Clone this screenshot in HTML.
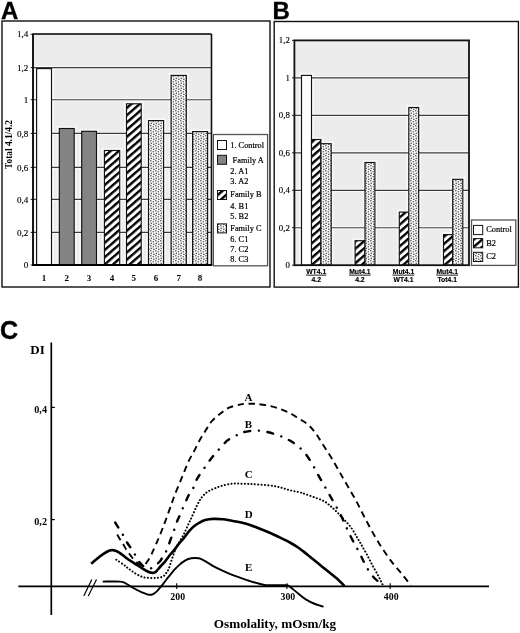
<!DOCTYPE html>
<html><head><meta charset="utf-8"><title>Figure</title>
<style>html,body{margin:0;padding:0;background:#fff;} svg{display:block;}</style>
</head><body>
<svg width="520" height="633" viewBox="0 0 520 633">
<rect width="520" height="633" fill="#fff"/>
<defs>
<pattern id="hatch" patternUnits="userSpaceOnUse" width="5.45" height="5.45" patternTransform="rotate(49)">
<rect x="0" y="0" width="5.45" height="5.45" fill="#fff"/>
<rect x="0" y="0" width="2.4" height="5.45" fill="#000"/>
</pattern>
<pattern id="dots" patternUnits="userSpaceOnUse" width="5" height="5">
<rect x="0" y="0" width="5" height="5" fill="#fcfcfc"/>
<circle cx="0.8" cy="0.8" r="0.82" fill="#5e5e5e"/>
<circle cx="3.3" cy="1.8" r="0.82" fill="#5e5e5e"/>
<circle cx="1.3" cy="3.4" r="0.82" fill="#5e5e5e"/>
<circle cx="3.8" cy="4.3" r="0.82" fill="#5e5e5e"/>
</pattern>
</defs>
<text x="1" y="18.5" font-family="'Liberation Sans', Arial, sans-serif" font-weight="bold" font-size="24" stroke="#000" stroke-width="0.35">A</text>
<rect x="2" y="21" width="268" height="266" fill="none" stroke="#111" stroke-width="1.4"/>
<rect x="33" y="34" width="178.5" height="231" fill="#ececec"/>
<rect x="36.6" y="68.6" width="14.9" height="196.4" fill="none" stroke="#fff" stroke-opacity="0.65" stroke-width="4.6"/>
<rect x="59.3" y="128.5" width="14.9" height="136.5" fill="none" stroke="#fff" stroke-opacity="0.65" stroke-width="4.6"/>
<rect x="81.7" y="131.3" width="14.8" height="133.7" fill="none" stroke="#fff" stroke-opacity="0.65" stroke-width="4.6"/>
<rect x="104.4" y="150.5" width="15.3" height="114.5" fill="none" stroke="#fff" stroke-opacity="0.65" stroke-width="4.6"/>
<rect x="126.5" y="103.8" width="14.7" height="161.2" fill="none" stroke="#fff" stroke-opacity="0.65" stroke-width="4.6"/>
<rect x="148.5" y="120.6" width="15.1" height="144.4" fill="none" stroke="#fff" stroke-opacity="0.65" stroke-width="4.6"/>
<rect x="171.1" y="75.4" width="15.2" height="189.6" fill="none" stroke="#fff" stroke-opacity="0.65" stroke-width="4.6"/>
<rect x="192.6" y="131.6" width="15.0" height="133.4" fill="none" stroke="#fff" stroke-opacity="0.65" stroke-width="4.6"/>
<line x1="30.6" y1="34.2" x2="33" y2="34.2" stroke="#222" stroke-width="1"/>
<text x="28.3" y="37.3" text-anchor="end" font-family="'Liberation Serif', 'Times New Roman', serif" font-size="9.1" stroke="#000" stroke-width="0.15">1,4</text>
<line x1="33" y1="67.6" x2="211.5" y2="67.6" stroke="#fff" stroke-opacity="0.65" stroke-width="3.4"/>
<line x1="33" y1="67.6" x2="211.5" y2="67.6" stroke="#3c3c3c" stroke-width="1.15"/>
<line x1="30.6" y1="67.6" x2="33" y2="67.6" stroke="#222" stroke-width="1"/>
<text x="28.3" y="70.7" text-anchor="end" font-family="'Liberation Serif', 'Times New Roman', serif" font-size="9.1" stroke="#000" stroke-width="0.15">1,2</text>
<line x1="33" y1="99.7" x2="211.5" y2="99.7" stroke="#fff" stroke-opacity="0.65" stroke-width="3.4"/>
<line x1="33" y1="99.7" x2="211.5" y2="99.7" stroke="#3c3c3c" stroke-width="1.15"/>
<line x1="30.6" y1="99.7" x2="33" y2="99.7" stroke="#222" stroke-width="1"/>
<text x="28.3" y="102.8" text-anchor="end" font-family="'Liberation Serif', 'Times New Roman', serif" font-size="9.1" stroke="#000" stroke-width="0.15">1</text>
<line x1="33" y1="133.4" x2="211.5" y2="133.4" stroke="#fff" stroke-opacity="0.65" stroke-width="3.4"/>
<line x1="33" y1="133.4" x2="211.5" y2="133.4" stroke="#3c3c3c" stroke-width="1.15"/>
<line x1="30.6" y1="133.4" x2="33" y2="133.4" stroke="#222" stroke-width="1"/>
<text x="28.3" y="136.5" text-anchor="end" font-family="'Liberation Serif', 'Times New Roman', serif" font-size="9.1" stroke="#000" stroke-width="0.15">0,8</text>
<line x1="33" y1="167.4" x2="211.5" y2="167.4" stroke="#fff" stroke-opacity="0.65" stroke-width="3.4"/>
<line x1="33" y1="167.4" x2="211.5" y2="167.4" stroke="#3c3c3c" stroke-width="1.15"/>
<line x1="30.6" y1="167.4" x2="33" y2="167.4" stroke="#222" stroke-width="1"/>
<text x="28.3" y="170.5" text-anchor="end" font-family="'Liberation Serif', 'Times New Roman', serif" font-size="9.1" stroke="#000" stroke-width="0.15">0,6</text>
<line x1="33" y1="199.4" x2="211.5" y2="199.4" stroke="#fff" stroke-opacity="0.65" stroke-width="3.4"/>
<line x1="33" y1="199.4" x2="211.5" y2="199.4" stroke="#3c3c3c" stroke-width="1.15"/>
<line x1="30.6" y1="199.4" x2="33" y2="199.4" stroke="#222" stroke-width="1"/>
<text x="28.3" y="202.5" text-anchor="end" font-family="'Liberation Serif', 'Times New Roman', serif" font-size="9.1" stroke="#000" stroke-width="0.15">0,4</text>
<line x1="33" y1="232.4" x2="211.5" y2="232.4" stroke="#fff" stroke-opacity="0.65" stroke-width="3.4"/>
<line x1="33" y1="232.4" x2="211.5" y2="232.4" stroke="#3c3c3c" stroke-width="1.15"/>
<line x1="30.6" y1="232.4" x2="33" y2="232.4" stroke="#222" stroke-width="1"/>
<text x="28.3" y="235.5" text-anchor="end" font-family="'Liberation Serif', 'Times New Roman', serif" font-size="9.1" stroke="#000" stroke-width="0.15">0,2</text>
<line x1="30.6" y1="265.0" x2="33" y2="265.0" stroke="#222" stroke-width="1"/>
<text x="28.3" y="268.1" text-anchor="end" font-family="'Liberation Serif', 'Times New Roman', serif" font-size="9.1" stroke="#000" stroke-width="0.15">0</text>
<rect x="36.6" y="68.6" width="14.9" height="196.4" fill="#fff" stroke="#111" stroke-width="1.15"/>
<text x="44.0" y="280.8" text-anchor="middle" font-family="'Liberation Serif', 'Times New Roman', serif" font-weight="bold" font-size="9">1</text>
<rect x="59.3" y="128.5" width="14.9" height="136.5" fill="#848484" stroke="#111" stroke-width="1.15"/>
<text x="66.8" y="280.8" text-anchor="middle" font-family="'Liberation Serif', 'Times New Roman', serif" font-weight="bold" font-size="9">2</text>
<rect x="81.7" y="131.3" width="14.8" height="133.7" fill="#848484" stroke="#111" stroke-width="1.15"/>
<text x="89.1" y="280.8" text-anchor="middle" font-family="'Liberation Serif', 'Times New Roman', serif" font-weight="bold" font-size="9">3</text>
<rect x="104.4" y="150.5" width="15.3" height="114.5" fill="url(#hatch)" stroke="#111" stroke-width="1.15"/>
<text x="112.1" y="280.8" text-anchor="middle" font-family="'Liberation Serif', 'Times New Roman', serif" font-weight="bold" font-size="9">4</text>
<rect x="126.5" y="103.8" width="14.7" height="161.2" fill="url(#hatch)" stroke="#111" stroke-width="1.15"/>
<text x="133.8" y="280.8" text-anchor="middle" font-family="'Liberation Serif', 'Times New Roman', serif" font-weight="bold" font-size="9">5</text>
<rect x="148.5" y="120.6" width="15.1" height="144.4" fill="url(#dots)" stroke="#111" stroke-width="1.15"/>
<text x="156.1" y="280.8" text-anchor="middle" font-family="'Liberation Serif', 'Times New Roman', serif" font-weight="bold" font-size="9">6</text>
<rect x="171.1" y="75.4" width="15.2" height="189.6" fill="url(#dots)" stroke="#111" stroke-width="1.15"/>
<text x="178.7" y="280.8" text-anchor="middle" font-family="'Liberation Serif', 'Times New Roman', serif" font-weight="bold" font-size="9">7</text>
<rect x="192.6" y="131.6" width="15.0" height="133.4" fill="url(#dots)" stroke="#111" stroke-width="1.15"/>
<text x="200.1" y="280.8" text-anchor="middle" font-family="'Liberation Serif', 'Times New Roman', serif" font-weight="bold" font-size="9">8</text>
<line x1="33" y1="34" x2="211.5" y2="34" stroke="#000" stroke-width="1.6"/>
<line x1="211.5" y1="34" x2="211.5" y2="265" stroke="#111" stroke-width="1.6"/>
<line x1="33" y1="33.4" x2="33" y2="265.9" stroke="#000" stroke-width="1.8"/>
<line x1="33" y1="265" x2="212.3" y2="265" stroke="#000" stroke-width="1.8"/>
<text transform="translate(11.8,144.5) rotate(-90)" text-anchor="middle" font-family="'Liberation Serif', 'Times New Roman', serif" font-weight="bold" font-size="9.4">Total 4.1/4.2</text>
<rect x="213.4" y="134.5" width="54.2" height="131.3" fill="#fff" stroke="#555" stroke-width="1.3"/>
<rect x="217.5" y="140.5" width="9" height="9" fill="#fff" stroke="#111" stroke-width="1"/>
<rect x="217.5" y="155.3" width="9" height="9" fill="#848484" stroke="#111" stroke-width="1"/>
<rect x="217.5" y="190.5" width="9" height="9" fill="url(#hatch)" stroke="#111" stroke-width="1"/>
<rect x="217.5" y="223.9" width="9" height="9" fill="url(#dots)" stroke="#111" stroke-width="1"/>
<text x="230.3" y="147.6" font-family="'Liberation Serif', 'Times New Roman', serif" font-size="8.3" stroke="#000" stroke-width="0.2">1. Control</text>
<text x="232.6" y="162.7" font-family="'Liberation Serif', 'Times New Roman', serif" font-size="8.3" stroke="#000" stroke-width="0.2">Family A</text>
<text x="230.3" y="173.5" font-family="'Liberation Serif', 'Times New Roman', serif" font-size="8.3" stroke="#000" stroke-width="0.2">2. A1</text>
<text x="230.3" y="183.8" font-family="'Liberation Serif', 'Times New Roman', serif" font-size="8.3" stroke="#000" stroke-width="0.2">3. A2</text>
<text x="230.3" y="196.8" font-family="'Liberation Serif', 'Times New Roman', serif" font-size="8.3" stroke="#000" stroke-width="0.2">Family B</text>
<text x="230.3" y="209.3" font-family="'Liberation Serif', 'Times New Roman', serif" font-size="8.3" stroke="#000" stroke-width="0.2">4. B1</text>
<text x="230.3" y="218.6" font-family="'Liberation Serif', 'Times New Roman', serif" font-size="8.3" stroke="#000" stroke-width="0.2">5. B2</text>
<text x="230.3" y="230.9" font-family="'Liberation Serif', 'Times New Roman', serif" font-size="8.3" stroke="#000" stroke-width="0.2">Family C</text>
<text x="230.3" y="242.2" font-family="'Liberation Serif', 'Times New Roman', serif" font-size="8.3" stroke="#000" stroke-width="0.2">6. C1</text>
<text x="230.3" y="251.8" font-family="'Liberation Serif', 'Times New Roman', serif" font-size="8.3" stroke="#000" stroke-width="0.2">7. C2</text>
<text x="230.3" y="261.7" font-family="'Liberation Serif', 'Times New Roman', serif" font-size="8.3" stroke="#000" stroke-width="0.2">8. C3</text>
<text x="272.4" y="18.5" font-family="'Liberation Sans', Arial, sans-serif" font-weight="bold" font-size="24" stroke="#000" stroke-width="0.35">B</text>
<rect x="274.2" y="21.5" width="244.2" height="265.6" fill="none" stroke="#111" stroke-width="1.4"/>
<rect x="294.4" y="40.4" width="174.60000000000002" height="224.79999999999998" fill="#ececec"/>
<rect x="301.5" y="75.4" width="10.0" height="189.8" fill="none" stroke="#fff" stroke-opacity="0.65" stroke-width="4.6"/>
<rect x="311.5" y="139.5" width="9.4" height="125.7" fill="none" stroke="#fff" stroke-opacity="0.65" stroke-width="4.6"/>
<rect x="320.9" y="143.7" width="10.3" height="121.5" fill="none" stroke="#fff" stroke-opacity="0.65" stroke-width="4.6"/>
<rect x="355.1" y="240.7" width="9.9" height="24.5" fill="none" stroke="#fff" stroke-opacity="0.65" stroke-width="4.6"/>
<rect x="365.0" y="162.5" width="9.9" height="102.7" fill="none" stroke="#fff" stroke-opacity="0.65" stroke-width="4.6"/>
<rect x="399.3" y="212.1" width="9.5" height="53.1" fill="none" stroke="#fff" stroke-opacity="0.65" stroke-width="4.6"/>
<rect x="408.8" y="107.5" width="9.9" height="157.7" fill="none" stroke="#fff" stroke-opacity="0.65" stroke-width="4.6"/>
<rect x="443.5" y="234.6" width="9.2" height="30.6" fill="none" stroke="#fff" stroke-opacity="0.65" stroke-width="4.6"/>
<rect x="452.7" y="179.3" width="10.1" height="85.9" fill="none" stroke="#fff" stroke-opacity="0.65" stroke-width="4.6"/>
<line x1="292" y1="40.4" x2="294.4" y2="40.4" stroke="#222" stroke-width="1"/>
<text x="289.8" y="43.3" text-anchor="end" font-family="'Liberation Serif', 'Times New Roman', serif" font-size="8.8" stroke="#000" stroke-width="0.15">1,2</text>
<line x1="294.4" y1="77.9" x2="469" y2="77.9" stroke="#fff" stroke-opacity="0.65" stroke-width="3.4"/>
<line x1="294.4" y1="77.9" x2="469" y2="77.9" stroke="#3c3c3c" stroke-width="1.15"/>
<line x1="292" y1="77.9" x2="294.4" y2="77.9" stroke="#222" stroke-width="1"/>
<text x="289.8" y="80.8" text-anchor="end" font-family="'Liberation Serif', 'Times New Roman', serif" font-size="8.8" stroke="#000" stroke-width="0.15">1</text>
<line x1="294.4" y1="115.3" x2="469" y2="115.3" stroke="#fff" stroke-opacity="0.65" stroke-width="3.4"/>
<line x1="294.4" y1="115.3" x2="469" y2="115.3" stroke="#3c3c3c" stroke-width="1.15"/>
<line x1="292" y1="115.3" x2="294.4" y2="115.3" stroke="#222" stroke-width="1"/>
<text x="289.8" y="118.2" text-anchor="end" font-family="'Liberation Serif', 'Times New Roman', serif" font-size="8.8" stroke="#000" stroke-width="0.15">0,8</text>
<line x1="294.4" y1="152.8" x2="469" y2="152.8" stroke="#fff" stroke-opacity="0.65" stroke-width="3.4"/>
<line x1="294.4" y1="152.8" x2="469" y2="152.8" stroke="#3c3c3c" stroke-width="1.15"/>
<line x1="292" y1="152.8" x2="294.4" y2="152.8" stroke="#222" stroke-width="1"/>
<text x="289.8" y="155.7" text-anchor="end" font-family="'Liberation Serif', 'Times New Roman', serif" font-size="8.8" stroke="#000" stroke-width="0.15">0,6</text>
<line x1="294.4" y1="190.3" x2="469" y2="190.3" stroke="#fff" stroke-opacity="0.65" stroke-width="3.4"/>
<line x1="294.4" y1="190.3" x2="469" y2="190.3" stroke="#3c3c3c" stroke-width="1.15"/>
<line x1="292" y1="190.3" x2="294.4" y2="190.3" stroke="#222" stroke-width="1"/>
<text x="289.8" y="193.2" text-anchor="end" font-family="'Liberation Serif', 'Times New Roman', serif" font-size="8.8" stroke="#000" stroke-width="0.15">0,4</text>
<line x1="294.4" y1="227.7" x2="469" y2="227.7" stroke="#fff" stroke-opacity="0.65" stroke-width="3.4"/>
<line x1="294.4" y1="227.7" x2="469" y2="227.7" stroke="#3c3c3c" stroke-width="1.15"/>
<line x1="292" y1="227.7" x2="294.4" y2="227.7" stroke="#222" stroke-width="1"/>
<text x="289.8" y="230.6" text-anchor="end" font-family="'Liberation Serif', 'Times New Roman', serif" font-size="8.8" stroke="#000" stroke-width="0.15">0,2</text>
<line x1="292" y1="265.2" x2="294.4" y2="265.2" stroke="#222" stroke-width="1"/>
<text x="289.8" y="268.1" text-anchor="end" font-family="'Liberation Serif', 'Times New Roman', serif" font-size="8.8" stroke="#000" stroke-width="0.15">0</text>
<rect x="301.5" y="75.4" width="10.0" height="189.8" fill="#fff" stroke="#111" stroke-width="1.15"/>
<rect x="311.5" y="139.5" width="9.4" height="125.7" fill="url(#hatch)" stroke="#111" stroke-width="1.15"/>
<rect x="320.9" y="143.7" width="10.3" height="121.5" fill="url(#dots)" stroke="#111" stroke-width="1.15"/>
<rect x="355.1" y="240.7" width="9.9" height="24.5" fill="url(#hatch)" stroke="#111" stroke-width="1.15"/>
<rect x="365.0" y="162.5" width="9.9" height="102.7" fill="url(#dots)" stroke="#111" stroke-width="1.15"/>
<rect x="399.3" y="212.1" width="9.5" height="53.1" fill="url(#hatch)" stroke="#111" stroke-width="1.15"/>
<rect x="408.8" y="107.5" width="9.9" height="157.7" fill="url(#dots)" stroke="#111" stroke-width="1.15"/>
<rect x="443.5" y="234.6" width="9.2" height="30.6" fill="url(#hatch)" stroke="#111" stroke-width="1.15"/>
<rect x="452.7" y="179.3" width="10.1" height="85.9" fill="url(#dots)" stroke="#111" stroke-width="1.15"/>
<rect x="294.4" y="40.4" width="174.60000000000002" height="224.79999999999998" fill="none" stroke="#111" stroke-width="1.8"/>
<text x="316.2" y="273.8" text-anchor="middle" font-family="'Liberation Sans', Arial, sans-serif" font-weight="bold" font-size="6.8" stroke="#000" stroke-width="0.15" text-decoration="underline">WT4.1</text>
<text x="316.2" y="281.6" text-anchor="middle" font-family="'Liberation Sans', Arial, sans-serif" font-weight="bold" font-size="6.8" stroke="#000" stroke-width="0.15">4.2</text>
<text x="359.9" y="273.8" text-anchor="middle" font-family="'Liberation Sans', Arial, sans-serif" font-weight="bold" font-size="6.8" stroke="#000" stroke-width="0.15" text-decoration="underline">Mut4.1</text>
<text x="359.9" y="281.6" text-anchor="middle" font-family="'Liberation Sans', Arial, sans-serif" font-weight="bold" font-size="6.8" stroke="#000" stroke-width="0.15">4.2</text>
<text x="403.5" y="273.8" text-anchor="middle" font-family="'Liberation Sans', Arial, sans-serif" font-weight="bold" font-size="6.8" stroke="#000" stroke-width="0.15" text-decoration="underline">Mut4.1</text>
<text x="403.5" y="281.6" text-anchor="middle" font-family="'Liberation Sans', Arial, sans-serif" font-weight="bold" font-size="6.8" stroke="#000" stroke-width="0.15">WT4.1</text>
<text x="447.2" y="273.8" text-anchor="middle" font-family="'Liberation Sans', Arial, sans-serif" font-weight="bold" font-size="6.8" stroke="#000" stroke-width="0.15" text-decoration="underline">Mut4.1</text>
<text x="447.2" y="281.6" text-anchor="middle" font-family="'Liberation Sans', Arial, sans-serif" font-weight="bold" font-size="6.8" stroke="#000" stroke-width="0.15">Tot4.1</text>
<rect x="471.5" y="220" width="44.3" height="45.4" fill="#fff" stroke="#555" stroke-width="1.3"/>
<rect x="473.5" y="225.4" width="9.2" height="9.2" fill="#fff" stroke="#111" stroke-width="1"/>
<text x="486.2" y="231.5" font-family="'Liberation Serif', 'Times New Roman', serif" font-size="8.4" stroke="#000" stroke-width="0.2">Control</text>
<rect x="473.5" y="238.6" width="9.2" height="9.2" fill="url(#hatch)" stroke="#111" stroke-width="1"/>
<text x="486.2" y="245.8" font-family="'Liberation Serif', 'Times New Roman', serif" font-size="8.4" stroke="#000" stroke-width="0.2">B2</text>
<rect x="473.5" y="252.3" width="9.2" height="9.2" fill="url(#dots)" stroke="#111" stroke-width="1"/>
<text x="486.2" y="259.2" font-family="'Liberation Serif', 'Times New Roman', serif" font-size="8.4" stroke="#000" stroke-width="0.2">C2</text>
<text x="0" y="338.5" font-family="'Liberation Sans', Arial, sans-serif" font-weight="bold" font-size="25" stroke="#000" stroke-width="0.4">C</text>
<text x="30.3" y="353.8" font-family="'Liberation Serif', 'Times New Roman', serif" font-weight="bold" font-size="13">DI</text>
<line x1="51.3" y1="342.4" x2="51.3" y2="615" stroke="#000" stroke-width="1.7"/>
<line x1="51.3" y1="407.4" x2="54.8" y2="407.4" stroke="#000" stroke-width="1.2"/>
<text x="47" y="412.5" text-anchor="end" font-family="'Liberation Serif', 'Times New Roman', serif" font-weight="bold" font-size="10.2">0,4</text>
<line x1="51.3" y1="519.6" x2="54.8" y2="519.6" stroke="#000" stroke-width="1.2"/>
<text x="47" y="524.7" text-anchor="end" font-family="'Liberation Serif', 'Times New Roman', serif" font-weight="bold" font-size="10.2">0,2</text>
<line x1="18.3" y1="586.4" x2="489" y2="586.4" stroke="#000" stroke-width="1.7"/>
<line x1="176.7" y1="583.2" x2="176.7" y2="589" stroke="#000" stroke-width="1.1"/>
<text x="177.7" y="600" text-anchor="middle" font-family="'Liberation Serif', 'Times New Roman', serif" font-weight="bold" font-size="9.8">200</text>
<line x1="286.9" y1="583.2" x2="286.9" y2="589" stroke="#000" stroke-width="1.1"/>
<text x="287.9" y="600" text-anchor="middle" font-family="'Liberation Serif', 'Times New Roman', serif" font-weight="bold" font-size="9.8">300</text>
<line x1="390.2" y1="583.2" x2="390.2" y2="589" stroke="#000" stroke-width="1.1"/>
<text x="391.2" y="600" text-anchor="middle" font-family="'Liberation Serif', 'Times New Roman', serif" font-weight="bold" font-size="9.8">400</text>
<line x1="83.8" y1="596" x2="91.8" y2="579.4" stroke="#000" stroke-width="1.2"/>
<line x1="88.3" y1="596" x2="96.5" y2="579.4" stroke="#000" stroke-width="1.2"/>
<text x="275" y="628" text-anchor="middle" font-family="'Liberation Serif', 'Times New Roman', serif" font-weight="bold" font-size="13.2">Osmolality, mOsm/kg</text>
<text x="248.5" y="401.2" text-anchor="middle" font-family="'Liberation Serif', 'Times New Roman', serif" font-weight="bold" font-size="11">A</text>
<text x="248.5" y="427.8" text-anchor="middle" font-family="'Liberation Serif', 'Times New Roman', serif" font-weight="bold" font-size="11">B</text>
<text x="248.8" y="477.6" text-anchor="middle" font-family="'Liberation Serif', 'Times New Roman', serif" font-weight="bold" font-size="11">C</text>
<text x="248.7" y="518.1" text-anchor="middle" font-family="'Liberation Serif', 'Times New Roman', serif" font-weight="bold" font-size="11">D</text>
<text x="248.7" y="570.8" text-anchor="middle" font-family="'Liberation Serif', 'Times New Roman', serif" font-weight="bold" font-size="11">E</text>
<path d="M117.2,534.6 C117.7,535.4 119.0,537.8 120.1,539.5 C121.1,541.2 122.5,543.1 123.5,544.8 C124.5,546.5 125.3,548.1 126.3,549.6 C127.3,551.1 128.1,552.1 129.3,553.7 C130.5,555.3 132.0,557.6 133.4,559.1 C134.8,560.6 136.2,561.8 137.5,562.8 C138.8,563.8 140.1,564.6 141.3,565.0 C142.5,565.4 143.5,565.8 144.5,565.2 C145.5,564.6 146.4,562.8 147.5,561.2 C148.6,559.6 150.0,557.5 150.9,555.8 C151.8,554.1 152.1,552.9 152.9,551.1 C153.7,549.3 154.7,547.1 155.6,545.0 C156.5,542.9 157.3,541.4 158.5,538.5 C159.7,535.6 161.4,531.6 162.8,527.9 C164.2,524.2 165.6,520.5 167.1,516.3 C168.6,512.1 170.6,506.6 171.9,502.9 C173.2,499.2 173.7,497.6 175.0,494.2 C176.3,490.8 178.3,486.4 179.8,482.7 C181.3,479.0 182.6,475.8 184.1,472.1 C185.6,468.4 187.2,464.1 188.9,460.6 C190.6,457.1 192.4,454.4 194.2,451.0 C196.0,447.6 197.6,443.9 199.5,440.5 C201.4,437.1 203.6,433.8 205.6,430.6 C207.6,427.4 209.0,424.4 211.5,421.5 C214.0,418.6 217.5,415.8 220.4,413.5 C223.3,411.2 225.8,409.2 229.0,407.7 C232.2,406.2 237.0,405.2 239.8,404.6 C242.6,404.0 243.2,403.9 245.6,403.8 C248.0,403.7 250.8,403.6 254.2,403.8 C257.6,404.0 261.9,404.4 265.8,405.1 C269.7,405.8 273.5,406.8 277.3,408.0 C281.1,409.2 285.2,410.8 288.7,412.5 C292.2,414.2 295.1,416.3 298.3,418.3 C301.5,420.3 305.0,422.0 307.9,424.5 C310.8,427.0 313.3,430.1 315.6,433.2 C317.9,436.2 319.7,439.5 321.8,442.8 C323.9,446.1 326.3,449.7 328.4,453.0 C330.5,456.3 332.4,459.5 334.3,462.8 C336.2,466.1 338.2,469.5 340.1,472.9 C342.0,476.3 343.8,479.4 345.9,483.0 C347.9,486.6 350.4,490.7 352.4,494.2 C354.4,497.7 356.1,500.7 357.9,504.1 C359.7,507.5 361.4,511.3 363.2,514.7 C365.0,518.2 366.6,521.3 368.5,524.8 C370.4,528.3 372.4,532.1 374.4,535.5 C376.4,538.9 378.2,542.0 380.4,545.4 C382.5,548.8 385.0,552.5 387.3,555.8 C389.6,559.1 391.9,562.1 394.2,565.0 C396.5,567.9 398.9,570.4 401.1,573.1 C403.3,575.8 405.9,579.0 407.5,581.1 C409.1,583.2 410.4,584.9 411.0,585.6" fill="none" stroke="#000" stroke-width="1.9" stroke-dasharray="6.5 4.6"/>
<path d="M115.2,522.5 C115.9,523.6 117.8,526.8 119.3,529.1 C120.8,531.4 122.5,534.0 123.9,536.5 C125.4,539.0 126.5,541.7 128.0,544.0 C129.5,546.3 131.3,548.2 132.7,550.4 C134.1,552.6 135.2,555.3 136.4,557.4 C137.6,559.5 138.8,561.3 140.0,562.8 C141.2,564.3 142.2,565.6 143.5,566.6 C144.8,567.6 146.2,568.3 147.5,568.6 C148.8,568.9 149.9,568.6 151.0,568.3 C152.1,567.9 152.9,567.2 153.9,566.5 C154.9,565.8 155.9,564.9 157.0,564.0 C158.1,563.1 159.3,562.2 160.3,561.0 C161.3,559.8 162.0,557.7 162.8,556.5 C163.6,555.3 164.2,555.2 165.1,553.6 C165.9,552.0 166.9,549.6 167.9,547.1 C168.9,544.6 169.9,541.3 170.9,538.7 C171.9,536.1 172.8,534.1 173.7,531.6 C174.5,529.1 174.9,526.9 176.0,524.0 C177.1,521.1 178.5,518.3 180.2,514.5 C181.8,510.7 184.3,504.8 185.9,501.2 C187.5,497.6 188.5,495.4 189.8,493.1 C191.1,490.8 192.5,489.7 193.7,487.3 C194.9,484.9 195.4,481.9 197.1,478.8 C198.8,475.8 201.4,472.3 203.7,469.0 C206.0,465.7 208.4,462.1 210.9,458.9 C213.4,455.7 215.9,452.8 218.6,449.8 C221.3,446.8 224.5,443.0 227.2,440.7 C229.9,438.4 232.7,437.5 235.0,436.2 C237.3,434.9 238.6,433.9 241.0,433.0 C243.4,432.1 246.1,431.5 249.4,431.1 C252.7,430.7 257.0,430.4 261.0,430.8 C265.0,431.2 270.0,432.7 273.5,433.7 C277.0,434.7 279.6,435.8 282.0,436.7 C284.4,437.6 285.5,438.1 287.7,439.4 C289.9,440.6 292.7,442.1 295.4,444.2 C298.1,446.3 301.4,448.9 304.0,451.9 C306.6,454.9 309.1,458.8 311.3,462.3 C313.5,465.8 315.0,469.3 317.0,472.9 C319.0,476.5 321.3,480.4 323.3,483.9 C325.3,487.4 327.0,490.5 329.0,494.0 C331.0,497.5 333.3,501.5 335.3,505.1 C337.3,508.7 339.3,512.0 341.1,515.7 C342.9,519.4 344.6,523.4 346.3,527.2 C348.1,531.0 349.8,534.7 351.6,538.3 C353.4,541.9 355.6,545.5 357.3,548.8 C359.0,552.1 360.8,555.5 362.0,558.0 C363.2,560.5 363.7,561.7 364.8,563.8 C365.9,565.9 367.3,568.5 368.8,570.8 C370.3,573.1 372.3,575.8 374.0,577.7 C375.7,579.6 377.9,581.0 379.2,582.3 C380.5,583.6 381.5,585.0 382.0,585.5" fill="none" stroke="#000" stroke-width="2.4" stroke-linecap="round" stroke-dasharray="5.8 8.6 0.1 8.6"/>
<path d="M116.3,559.7 C117.5,560.5 121.5,563.2 123.5,564.6 C125.5,566.0 126.2,566.9 128.0,568.2 C129.8,569.5 131.8,571.1 134.0,572.5 C136.2,573.9 139.4,575.8 141.5,576.6 C143.6,577.5 144.8,577.4 146.5,577.6 C148.2,577.8 150.1,578.0 151.6,578.0 C153.1,578.0 154.4,578.0 155.6,577.9 C156.8,577.8 157.8,577.8 159.0,577.6 C160.2,577.4 161.5,577.2 162.5,576.7 C163.5,576.2 164.4,575.5 165.1,574.7 C165.8,573.9 166.2,573.0 166.8,572.1 C167.4,571.2 168.0,570.7 168.6,569.2 C169.2,567.7 169.9,565.3 170.6,563.2 C171.3,561.1 172.1,558.6 172.9,556.4 C173.7,554.2 174.3,552.1 175.3,549.8 C176.3,547.5 177.7,544.9 179.0,542.5 C180.3,540.1 182.0,537.6 183.2,535.5 C184.3,533.4 185.0,531.6 185.9,529.6 C186.8,527.6 187.8,525.7 188.7,523.7 C189.6,521.7 190.3,520.3 191.6,517.4 C192.9,514.5 194.9,509.8 196.5,506.5 C198.1,503.2 199.5,500.3 201.3,497.9 C203.1,495.5 205.0,493.6 207.1,492.1 C209.2,490.6 211.4,489.8 213.8,488.8 C216.2,487.8 218.3,486.8 221.5,485.9 C224.7,485.0 229.2,484.0 233.1,483.6 C237.0,483.2 241.0,483.7 245.0,483.8 C249.0,483.9 251.9,483.9 257.0,484.3 C262.1,484.7 270.4,485.4 275.8,486.4 C281.2,487.4 285.7,489.2 289.6,490.2 C293.5,491.2 296.6,491.6 299.2,492.2 C301.8,492.8 302.4,493.1 305.0,494.0 C307.6,494.9 311.4,496.2 314.6,497.4 C317.8,498.6 321.5,499.8 324.2,501.3 C326.9,502.8 328.9,504.8 331.0,506.5 C333.1,508.2 334.5,509.6 336.7,511.8 C338.9,514.0 342.0,517.4 344.4,520.0 C346.8,522.6 349.2,524.9 351.2,527.7 C353.2,530.5 355.0,533.9 356.6,536.6 C358.2,539.3 359.4,541.2 361.0,544.1 C362.6,547.0 364.6,550.3 366.5,553.8 C368.4,557.3 370.4,561.4 372.3,565.0 C374.2,568.6 376.6,572.5 378.1,575.4 C379.6,578.3 380.7,580.6 381.5,582.3 C382.3,584.0 382.8,585.0 383.0,585.5" fill="none" stroke="#000" stroke-width="2.0" stroke-linecap="round" stroke-dasharray="0.1 3.25"/>
<path d="M91.2,563.8 C92.2,562.9 95.2,560.2 97.3,558.5 C99.3,556.8 101.5,555.1 103.5,553.8 C105.5,552.5 107.9,551.1 109.6,550.5 C111.3,549.9 112.0,550.0 113.5,550.3 C115.0,550.6 116.9,551.2 118.8,552.3 C120.7,553.4 123.5,555.7 125.0,556.9 C126.5,558.1 127.0,558.6 128.0,559.3 C129.0,560.0 129.6,560.3 131.2,561.3 C132.8,562.3 135.2,563.9 137.3,565.2 C139.4,566.5 141.7,568.1 143.5,569.2 C145.3,570.3 146.8,571.2 148.2,571.8 C149.5,572.4 150.5,572.7 151.6,572.8 C152.7,572.9 154.0,572.8 155.0,572.3 C156.0,571.8 156.8,570.6 157.8,569.6 C158.8,568.6 159.6,567.3 160.8,566.0 C162.0,564.7 163.5,563.4 165.0,561.6 C166.5,559.8 168.1,557.3 169.7,555.3 C171.3,553.3 172.9,551.6 174.5,549.6 C176.1,547.6 177.6,545.4 179.2,543.4 C180.8,541.4 182.4,539.9 184.0,537.9 C185.6,535.9 187.1,533.5 188.7,531.6 C190.3,529.8 191.7,528.2 193.4,526.8 C195.1,525.3 197.0,524.0 199.0,522.9 C201.0,521.8 202.8,520.8 205.2,520.1 C207.6,519.4 210.4,519.0 213.4,518.9 C216.4,518.8 219.9,519.0 223.0,519.3 C226.1,519.6 229.0,520.3 232.0,520.8 C235.0,521.3 238.1,521.8 241.2,522.5 C244.3,523.2 247.6,524.1 250.8,525.2 C254.0,526.3 257.2,527.7 260.4,529.0 C263.6,530.3 266.7,531.4 269.8,532.8 C272.9,534.1 276.0,535.6 279.2,537.1 C282.4,538.6 285.6,540.1 288.8,541.9 C292.0,543.7 295.3,545.5 298.5,547.7 C301.7,549.9 304.9,552.7 308.1,555.2 C311.3,557.8 314.5,560.4 317.7,563.0 C320.9,565.6 324.1,568.2 327.3,570.8 C330.5,573.4 334.0,575.9 336.9,578.5 C339.8,581.1 343.3,584.9 344.6,586.2" fill="none" stroke="#000" stroke-width="2.6" stroke-linejoin="round"/>
<path d="M102.7,581.6 C105.7,581.6 116.4,581.2 120.4,581.6 C124.4,582.0 124.2,582.6 126.5,583.8 C128.8,584.9 131.6,587.1 134.2,588.5 C136.8,589.9 139.6,591.3 141.9,592.3 C144.2,593.3 146.3,594.3 148.1,594.6 C149.9,594.9 151.2,594.9 152.7,594.3 C154.2,593.7 155.8,592.3 157.3,590.8 C158.8,589.3 160.4,587.2 161.9,585.4 C163.4,583.6 164.1,582.5 166.1,580.0 C168.1,577.5 171.6,573.0 173.8,570.4 C176.1,567.8 177.7,566.3 179.6,564.6 C181.5,562.9 183.5,561.5 185.4,560.4 C187.3,559.3 189.0,558.6 191.2,558.3 C193.4,557.9 196.6,557.9 198.8,558.3 C201.0,558.7 202.3,559.6 204.6,560.8 C206.8,562.0 209.4,564.0 212.3,565.6 C215.2,567.2 218.7,568.9 221.9,570.4 C225.1,571.9 228.3,573.3 231.5,574.6 C234.7,575.9 238.0,577.0 241.2,578.1 C244.4,579.2 247.6,580.3 250.8,581.3 C254.0,582.3 257.8,583.4 260.4,584.0 C263.0,584.6 263.8,585.0 266.2,585.2 C268.6,585.4 271.4,585.3 275.0,585.3 C278.6,585.3 285.8,585.3 287.9,585.3" fill="none" stroke="#000" stroke-width="1.9" stroke-linejoin="round"/>
<path d="M287.9,585.3 C288.7,585.9 290.9,587.6 292.7,589.0 C294.5,590.4 296.2,592.0 298.5,593.8 C300.8,595.6 303.6,598.0 306.2,599.6 C308.8,601.2 310.9,602.3 313.8,603.5 C316.7,604.7 321.9,606.3 323.5,606.9" fill="none" stroke="#000" stroke-width="1.9"/>
</svg>
</body></html>
